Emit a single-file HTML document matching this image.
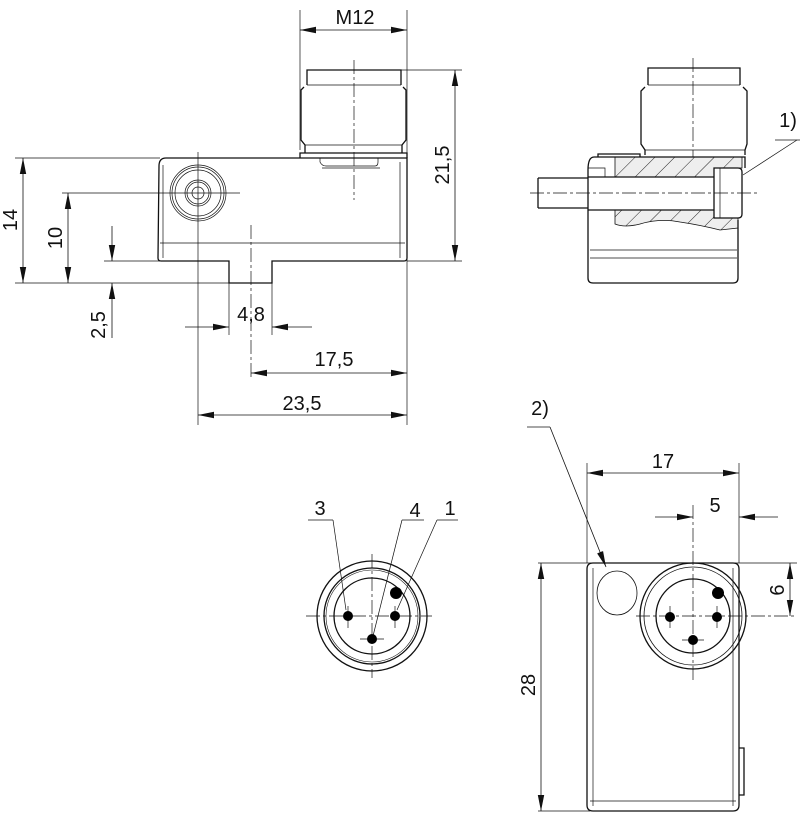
<!DOCTYPE html>
<html><head><meta charset="utf-8"><style>
html,body{margin:0;padding:0;background:#fff;}
svg{display:block;}
text{font-family:"Liberation Sans",sans-serif;font-size:20px;fill:#111;}
</style></head><body>
<svg width="800" height="813" viewBox="0 0 800 813" xmlns="http://www.w3.org/2000/svg">
<defs>
<marker id="a" markerWidth="16" markerHeight="8" refX="16" refY="4" orient="auto" markerUnits="userSpaceOnUse"><path d="M0,0.8 L16,4 L0,7.2 Z" fill="#111"/></marker>
<marker id="b" markerWidth="16" markerHeight="8" refX="0" refY="4" orient="auto" markerUnits="userSpaceOnUse"><path d="M16,0.8 L0,4 L16,7.2 Z" fill="#111"/></marker>
<pattern id="h" width="14" height="14" patternUnits="userSpaceOnUse" patternTransform="rotate(45)"><rect width="14" height="14" fill="#eeeeee"/><line x1="0" y1="0" x2="0" y2="14" stroke="#222" stroke-width="1"/></pattern>
</defs>
<g fill="none" stroke="#111">
<!-- ===== Top-left view ===== -->
<g stroke-width="0.7">
<line x1="300" y1="10" x2="300" y2="150"/><line x1="407" y1="10" x2="407" y2="425"/>
<line x1="401" y1="70" x2="462" y2="70"/><line x1="407" y1="261" x2="462" y2="261"/>
<line x1="15" y1="158" x2="160" y2="158"/><line x1="15" y1="283" x2="232" y2="283"/>
<line x1="62" y1="193" x2="240" y2="193"/><line x1="104" y1="261" x2="160" y2="261"/>
<line x1="198" y1="152" x2="198" y2="425"/><line x1="229" y1="283" x2="229" y2="335"/><line x1="272" y1="283" x2="272" y2="335"/>
<line x1="251" y1="225" x2="251" y2="380" stroke-dasharray="14,3,3,3"/>
<line x1="354" y1="60" x2="354" y2="200" stroke-dasharray="14,3,3,3"/>
<line x1="163" y1="165" x2="163" y2="258"/><line x1="400" y1="162" x2="400" y2="258"/><line x1="160" y1="243" x2="405" y2="243"/>
<line x1="322" y1="168" x2="380" y2="168"/>
</g>
<g stroke-width="0.8">
<line x1="300" y1="30" x2="407" y2="30" marker-start="url(#b)" marker-end="url(#a)"/>
<line x1="455" y1="70" x2="455" y2="261" marker-start="url(#b)" marker-end="url(#a)"/>
<line x1="23" y1="158" x2="23" y2="283" marker-start="url(#b)" marker-end="url(#a)"/>
<line x1="68" y1="193" x2="68" y2="283" marker-start="url(#b)" marker-end="url(#a)"/>
<line x1="112" y1="226" x2="112" y2="261" marker-end="url(#a)"/>
<line x1="112" y1="338" x2="112" y2="283" marker-end="url(#a)"/>
<line x1="185" y1="327" x2="229" y2="327" marker-end="url(#a)"/>
<line x1="312" y1="327" x2="272" y2="327" marker-end="url(#a)"/>
<line x1="251" y1="373" x2="407" y2="373" marker-start="url(#b)" marker-end="url(#a)"/>
<line x1="198" y1="415" x2="407" y2="415" marker-start="url(#b)" marker-end="url(#a)"/>
</g>
<g stroke-width="1.3">
<path d="M307,85 L307,70 L401,70 L401,85"/>
<path d="M304,87 L301,90 L301,140 L305,145 L305,153 M403,87 L406,90 L406,140 L402,145 L402,153"/>
<line x1="307" y1="85" x2="401" y2="85" stroke-width="0.7"/><line x1="305" y1="145" x2="402" y2="145" stroke-width="0.7"/>
<path d="M300,158 L300,153 L407,153 L407,158"/>
<path d="M166,158 L407,158 L407,258 Q407,261 404,261 L272,261 L272,283 L229,283 L229,261 L161,261 Q158,261 158,258 L159,166 Q159,158 166,158 Z"/>
</g>
<path d="M320,158 L320,162 Q322,166 326,166 L375,166 Q378,166 378,162 L378,158" stroke-width="0.7"/>
<g stroke-width="0.7">
<circle cx="198" cy="193" r="28"/><circle cx="198" cy="193" r="26"/><circle cx="198" cy="193" r="23"/>
<circle cx="198" cy="193" r="13"/><circle cx="198" cy="193" r="11"/><circle cx="198" cy="193" r="6"/>
</g>
<!-- ===== Top-right view ===== -->
<g stroke-width="0.7">
<line x1="693" y1="58" x2="693" y2="175" stroke-dasharray="14,3,3,3"/>
<line x1="530" y1="193" x2="760" y2="193" stroke-dasharray="14,3,3,3"/>
<line x1="743" y1="175" x2="797" y2="140"/><line x1="775" y1="140" x2="800" y2="140"/>
<line x1="590" y1="250" x2="737" y2="250"/><line x1="590" y1="258" x2="737" y2="258"/>
<line x1="648" y1="85" x2="740" y2="85"/><line x1="645" y1="150" x2="745" y2="150"/>
</g>
<path d="M615,157 L742,157 L742,168 L714,168 L714,177 L615,177 Z" fill="url(#h)" stroke-width="0.8"/>
<path d="M615,210 L714,210 L714,218 L738,218 L738,228 L720,230 Q700,225 680,222 Q660,218 640,224 Q625,228 615,224 Z" fill="url(#h)" stroke-width="0.8"/>
<path d="M588,177 L605,177 L605,168 L588,168" stroke-width="0.7"/>
<g stroke-width="1.3">
<path d="M648,85 L648,68 L740,68 L740,85"/>
<path d="M645,87 L641,91 L641,144 L645,150 L645,155 M743,87 L747,91 L747,144 L745,150 L745,155"/>
<path d="M598,157 L598,154 L640,154 L640,157"/>
<path d="M594,157 L745,157 L745,168 M588,170 Q588,157 594,157"/>
<path d="M538,178 L588,178 M538,208 L588,208 M538,178 L538,208"/>
<line x1="588" y1="177" x2="714" y2="177"/><line x1="588" y1="210" x2="714" y2="210"/>
<path d="M714,168 L738,168 Q742,168 742,172 L742,214 Q742,218 738,218 L714,218 Z"/>
<line x1="720" y1="168" x2="720" y2="218" stroke-width="0.7"/>
<path d="M588,170 L588,230 M588,230 L588,278 Q588,283 593,283 L733,283 Q738,283 738,278 L738,220"/>
</g>
<!-- ===== Bottom-middle pin view ===== -->
<g stroke-width="0.7">
<line x1="306" y1="616" x2="432" y2="616" stroke-dasharray="14,3,3,3"/>
<line x1="372" y1="554" x2="372" y2="678" stroke-dasharray="14,3,3,3"/>
<line x1="308" y1="520" x2="333" y2="520"/><line x1="333" y1="520" x2="346" y2="610"/>
<line x1="402" y1="520" x2="424" y2="520"/><line x1="402" y1="520" x2="373" y2="636"/>
<line x1="437" y1="520" x2="458" y2="520"/><line x1="437" y1="520" x2="397" y2="610"/>
<line x1="348" y1="606" x2="348" y2="628"/><line x1="395" y1="606" x2="395" y2="628"/><line x1="360" y1="639" x2="384" y2="639"/>
</g>
<g stroke-width="1.3">
<circle cx="372" cy="616" r="55"/><circle cx="372" cy="616" r="48"/><circle cx="372" cy="616" r="38"/>
</g>
<circle cx="372" cy="616" r="46" stroke-width="0.6"/>
<!-- ===== Bottom-right view ===== -->
<g stroke-width="0.7">
<line x1="587" y1="463" x2="587" y2="563"/><line x1="739" y1="463" x2="739" y2="563"/>
<line x1="693" y1="505" x2="693" y2="680" stroke-dasharray="14,3,3,3"/>
<line x1="636" y1="616" x2="797" y2="616" stroke-dasharray="14,3,3,3"/>
<line x1="538" y1="563" x2="797" y2="563"/><line x1="538" y1="811" x2="590" y2="811"/>
<line x1="527" y1="427" x2="550" y2="427"/>
<line x1="593" y1="568" x2="593" y2="806"/><line x1="733" y1="568" x2="733" y2="806"/><line x1="590" y1="801" x2="736" y2="801"/>
<line x1="670" y1="606" x2="670" y2="628"/><line x1="717" y1="606" x2="717" y2="628"/><line x1="682" y1="640" x2="704" y2="640"/>
</g>
<g stroke-width="0.8">
<line x1="587" y1="473" x2="739" y2="473" marker-start="url(#b)" marker-end="url(#a)"/>
<line x1="655" y1="517" x2="693" y2="517" marker-end="url(#a)"/>
<line x1="778" y1="517" x2="739" y2="517" marker-end="url(#a)"/>
<line x1="790" y1="563" x2="790" y2="616" marker-start="url(#b)" marker-end="url(#a)"/>
<line x1="541" y1="563" x2="541" y2="811" marker-start="url(#b)" marker-end="url(#a)"/>
<line x1="550" y1="427" x2="606" y2="567" marker-end="url(#a)"/>
</g>
<g stroke-width="1.3">
<path d="M593,563 L733,563 Q739,563 739,569 L739,805 Q739,811 733,811 L593,811 Q587,811 587,805 L587,569 Q587,563 593,563 Z"/>
<path d="M739,748 L744,748 L744,795 L739,795"/>
<circle cx="693" cy="616" r="53"/><circle cx="693" cy="616" r="37"/>
</g>
<circle cx="693" cy="616" r="49" stroke-width="0.8"/>
<ellipse cx="617" cy="593" rx="20" ry="22" stroke-width="0.8"/>
</g>
<!-- pins -->
<g fill="#000">
<circle cx="348" cy="616" r="5"/><circle cx="395" cy="616" r="5"/><circle cx="372" cy="639" r="5"/><circle cx="396" cy="593" r="6"/>
<circle cx="670" cy="617" r="5"/><circle cx="717" cy="617" r="5"/><circle cx="693" cy="640" r="5"/><circle cx="718" cy="593" r="6"/>
</g>
<!-- labels -->
<text x="355" y="24" text-anchor="middle">M12</text>
<text x="251" y="321" text-anchor="middle">4,8</text>
<text x="334" y="366" text-anchor="middle">17,5</text>
<text x="302" y="410" text-anchor="middle">23,5</text>
<text transform="translate(17,220) rotate(-90)" text-anchor="middle">14</text>
<text transform="translate(62,238) rotate(-90)" text-anchor="middle">10</text>
<text transform="translate(105,325) rotate(-90)" text-anchor="middle">2,5</text>
<text transform="translate(449,165) rotate(-90)" text-anchor="middle">21,5</text>
<text x="788" y="127" text-anchor="middle">1)</text>
<text x="540" y="415" text-anchor="middle">2)</text>
<text x="320" y="515" text-anchor="middle">3</text>
<text x="415" y="517" text-anchor="middle">4</text>
<text x="450" y="515" text-anchor="middle">1</text>
<text x="663" y="468" text-anchor="middle">17</text>
<text x="715" y="512" text-anchor="middle">5</text>
<text transform="translate(784,590) rotate(-90)" text-anchor="middle">6</text>
<text transform="translate(535,685) rotate(-90)" text-anchor="middle">28</text>
</svg>
</body></html>
